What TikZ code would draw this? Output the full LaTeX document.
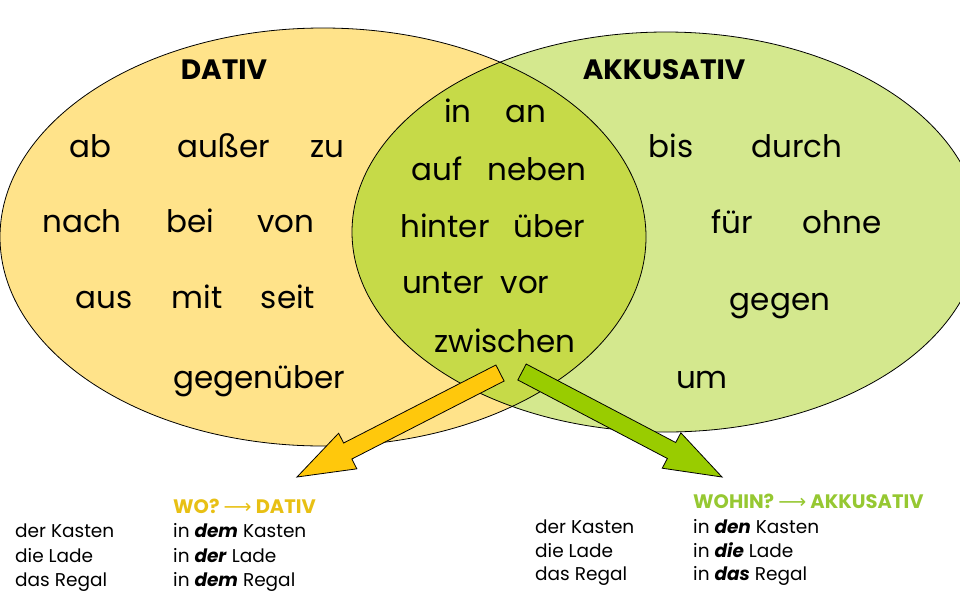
\documentclass[tikz,border=0pt]{standalone}
\usepackage{fontspec}
\setmainfont{Poppins}
\newfontfamily\symfont{DejaVu Sans}
\usepackage{xcolor}
\usepackage{tikz}
\usetikzlibrary{calc,positioning}

\definecolor{dativgelb}{RGB}{255,227,138}
\definecolor{akkgruen}{RGB}{212,232,142}
\definecolor{schnitt}{RGB}{198,218,72}
\definecolor{pfeilgelb}{RGB}{255,200,12}
\definecolor{pfeilgruen}{RGB}{153,204,0}
\definecolor{wogelb}{RGB}{232,192,20}
\definecolor{wohingruen}{RGB}{150,200,50}

\begin{document}
\begin{tikzpicture}[x=1pt, y=-1pt,
  wort/.style={anchor=base, inner sep=0pt, font=\fontsize{31}{34}\selectfont},
  kopf/.style={anchor=base, inner sep=0pt, font=\bfseries\fontsize{28}{30}\selectfont},
  zeile/.style={anchor=base west, inner sep=0pt, font=\fontsize{18.5}{21}\selectfont},
  frage/.style={anchor=base west, inner sep=0pt, font=\bfseries\fontsize{19.5}{22}\selectfont},
  pfeil/.style={draw=black, line width=0.8pt, line join=miter}
]
\useasboundingbox (0,0) rectangle (960,600);
\clip (0,0) rectangle (960,600);

% Kreise
\fill[dativgelb] (323,237) ellipse [x radius=323, y radius=209];
\fill[akkgruen] (666,232) ellipse [x radius=314, y radius=200];
\begin{scope}
  \clip (323,237) ellipse [x radius=323, y radius=209];
  \fill[schnitt] (666,232) ellipse [x radius=314, y radius=200];
\end{scope}
\draw[line width=0.8pt] (323,237) ellipse [x radius=323, y radius=209];
\draw[line width=0.8pt] (666,232) ellipse [x radius=314, y radius=200];

% Dativ
\node[kopf] (dativ) at (224,79) {DATIV};
\node[wort] (ab)    at (90,157)  {ab};
\node[wort] (ausser) at (224,157) {außer};
\node[wort] (zu)    at (327,157) {zu};
\node[wort] (nach)  at (82,232)  {nach};
\node[wort] (bei)   at (190,232) {bei};
\node[wort] (von)   at (286,232) {von};
\node[wort] (aus)   at (104,308) {aus};
\node[wort] (mit)   at (197,308) {mit};
\node[wort] (seit)  at (288,308) {seit};
\node[wort] (gegenueber) at (259,388) {gegenüber};

% Wechselpraepositionen
\node[wort] (in)     at (458,122) {in};
\node[wort] (an)     at (526,122) {an};
\node[wort] (auf)    at (437,180) {auf};
\node[wort] (neben)  at (537,180) {neben};
\node[wort] (hinter) at (445,237) {hinter};
\node[wort] (ueber)  at (549,237) {über};
\node[wort] (unter)  at (443,293) {unter};
\node[wort] (vor)    at (525,293) {vor};
\node[wort] (zwischen) at (505,352) {zwischen};

% Akkusativ
\node[kopf] (akk)   at (664,79)  {AKKUSATIV};
\node[wort] (bis)   at (671,157) {bis};
\node[wort] (durch) at (797,157) {durch};
\node[wort] (fuer)  at (732,233) {für};
\node[wort] (ohne)  at (842,233) {ohne};
\node[wort] (gegen) at (780,310) {gegen};
\node[wort] (um)    at (702,388) {um};

% Pfeile
\coordinate (ya) at (500,373);
\coordinate (yb) at (297,477);
\coordinate (yn) at ($(yb)!57pt!(ya)$);
\filldraw[pfeil, fill=pfeilgelb]
  ($(ya)!9pt!90:(yb)$) -- ($(yn)!9pt!-90:(ya)$) -- ($(yn)!20pt!-90:(ya)$)
  -- (yb) -- ($(yn)!20pt!90:(ya)$) -- ($(yn)!9pt!90:(ya)$)
  -- ($(ya)!9pt!-90:(yb)$) -- cycle;
\coordinate (ga) at (522,372);
\coordinate (gb) at (722,477);
\coordinate (gn) at ($(gb)!57pt!(ga)$);
\filldraw[pfeil, fill=pfeilgruen]
  ($(ga)!9pt!90:(gb)$) -- ($(gn)!9pt!-90:(ga)$) -- ($(gn)!20pt!-90:(ga)$)
  -- (gb) -- ($(gn)!20pt!90:(ga)$) -- ($(gn)!9pt!90:(ga)$)
  -- ($(ga)!9pt!-90:(gb)$) -- cycle;

% Beispiele Dativ
\node[frage, text=wogelb] (wo) at (173,513) {WO? {\symfont\mdseries ⟶} DATIV};
\node[zeile] (dk) at (15,537)  {der Kasten};
\node[zeile] (dl) at (15,562)  {die Lade};
\node[zeile] (dr) at (15,586)  {das Regal};
\node[zeile] (idk) at (173,537) {in \textbf{\textit{dem}} Kasten};
\node[zeile] (idl) at (173,562) {in \textbf{\textit{der}} Lade};
\node[zeile] (idr) at (173,586) {in \textbf{\textit{dem}} Regal};

% Beispiele Akkusativ
\node[frage, text=wohingruen] (wohin) at (693,508) {WOHIN? {\symfont\mdseries ⟶} AKKUSATIV};
\node[zeile] (ak) at (535,533) {der Kasten};
\node[zeile] (al) at (535,557) {die Lade};
\node[zeile] (ar) at (535,580) {das Regal};
\node[zeile] (iak) at (693,533) {in \textbf{\textit{den}} Kasten};
\node[zeile] (ial) at (693,557) {in \textbf{\textit{die}} Lade};
\node[zeile] (iar) at (693,580) {in \textbf{\textit{das}} Regal};
\end{tikzpicture}
\end{document}
